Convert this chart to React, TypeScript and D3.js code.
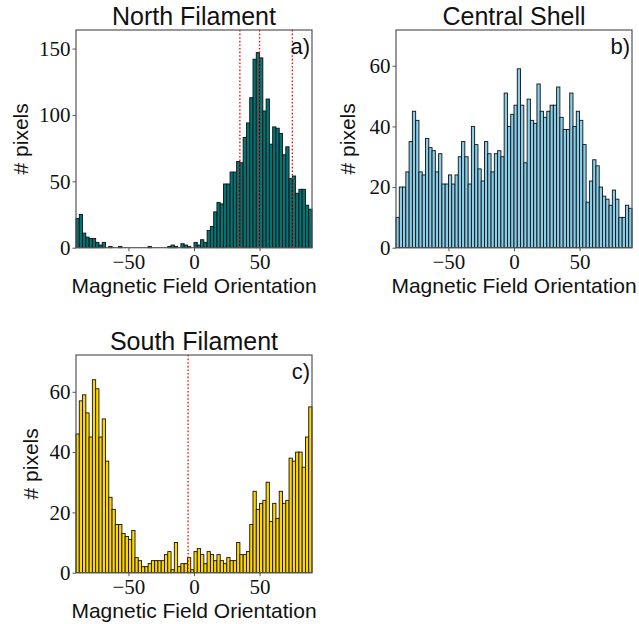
import * as d3 from 'd3';
import { useRef, useEffect } from 'react';

// histogram counts, 72 bins of 2.5 deg from -90 to 90
const northCounts = [
  22, 25, 11, 8, 7, 7, 4, 2, 4, 0,
  1, 0, 0, 1, 0, 0, 0, 0, 0, 0,
  0, 0, 1, 0, 0, 0, 0, 0, 1, 2,
  1, 0, 3, 2, 1, 0, 4, 2, 6, 4,
  13, 16, 27, 34, 33, 48, 48, 57, 57, 65,
  64, 83, 94, 113, 142, 147, 143, 103, 112, 78,
  91, 90, 86, 70, 76, 52, 54, 41, 44, 44,
  32, 29,
];

const centralCounts = [
  10, 20, 20, 25, 35, 45, 42, 25, 24, 36,
  33, 32, 25, 31, 21, 21, 24, 21, 24, 30,
  35, 30, 21, 40, 34, 26, 22, 35, 31, 25,
  31, 32, 30, 51, 40, 44, 47, 59, 47, 28,
  49, 42, 41, 54, 45, 43, 45, 47, 47, 53,
  43, 39, 39, 51, 40, 45, 42, 34, 15, 22,
  29, 27, 20, 17, 16, 14, 19, 16, 10, 10,
  14, 13,
];

const southCounts = [
  46, 57, 59, 53, 45, 64, 61, 45, 51, 37,
  25, 21, 16, 16, 13, 12, 11, 14, 5, 4,
  2, 2, 3, 4, 4, 4, 4, 6, 7, 1,
  10, 2, 3, 3, 5, 1, 7, 8, 6, 3,
  7, 6, 4, 6, 4, 3, 5, 4, 4, 10,
  6, 6, 7, 16, 27, 21, 23, 24, 30, 17,
  23, 18, 27, 23, 24, 38, 37, 40, 40, 35,
  45, 55,
];

const northLines = [35, 50, 75];
const southLines = [-4.5];

const xTicks = [-50, 0, 50];
const northYTicks = [0, 50, 100, 150];
const smallYTicks = [0, 20, 40, 60];

const BIN_START = -90;
const BIN_WIDTH = 2.5;

interface Panel {
  title: string;
  tag: string;
  counts: number[];
  color: string;
  yMax: number;
  yTicks: number[];
  lines: number[];
  left: number;
  top: number;
  labelX: number;
}

const panels: Panel[] = [
  { title: 'North Filament', tag: 'a)', counts: northCounts, color: '#007575', yMax: 164, yTicks: northYTicks, lines: northLines, left: 76, top: 30, labelX: 28 },
  { title: 'Central Shell', tag: 'b)', counts: centralCounts, color: '#87ceeb', yMax: 71.8, yTicks: smallYTicks, lines: [], left: 396, top: 30, labelX: 355 },
  { title: 'South Filament', tag: 'c)', counts: southCounts, color: '#ffd700', yMax: 72.2, yTicks: smallYTicks, lines: southLines, left: 76, top: 355, labelX: 38 },
];

const W = 236;
const H = 217.7;
const SANS = '"Liberation Sans", Arial, sans-serif';
const SERIF = '"Liberation Serif", "Times New Roman", serif';

const App = () => {
  const ref = useRef<SVGSVGElement>(null);

  useEffect(() => {
    if (!ref.current) return;
    const svg = d3.select(ref.current);
    svg.selectAll('*').remove();

    panels.forEach(p => {
      const g = svg.append('g').attr('transform', `translate(${p.left},${p.top})`);
      const x = d3.scaleLinear().domain([-90, 90]).range([0, W]);
      const y = d3.scaleLinear().domain([0, p.yMax]).range([H, 0]);

      // bars
      g.append('g')
        .selectAll('rect')
        .data(p.counts)
        .join('rect')
          .attr('x', (d, i) => x(BIN_START + i * BIN_WIDTH))
          .attr('y', d => y(d))
          .attr('width', x(BIN_WIDTH) - x(0))
          .attr('height', d => H - y(d))
          .attr('fill', p.color)
          .attr('stroke', '#111')
          .attr('stroke-width', 0.9);

      // red dotted reference lines
      g.append('g')
        .selectAll('line')
        .data(p.lines)
        .join('line')
          .attr('x1', d => x(d)).attr('x2', d => x(d))
          .attr('y1', 0).attr('y2', H)
          .attr('stroke', 'red')
          .attr('stroke-width', 1.3)
          .attr('stroke-dasharray', '1.6,2');

      // frame
      g.append('rect')
        .attr('width', W).attr('height', H)
        .attr('fill', 'none')
        .attr('stroke', '#555')
        .attr('stroke-width', 1.2);

      // x axis
      const xAxis = d3.axisBottom(x).tickValues(xTicks).tickSize(3.5).tickPadding(4)
        .tickFormat(d => (+d < 0 ? '\u2212' + Math.abs(+d) : String(d)));
      const gx = g.append('g').attr('transform', `translate(0,${H})`).call(xAxis);
      gx.select('.domain').remove();
      gx.selectAll('line').attr('stroke', '#555');
      gx.selectAll('text')
        .attr('font-family', SERIF).attr('font-size', 21).attr('fill', '#111')
        .attr('dy', '0.68em');

      // y axis
      const yAxis = d3.axisLeft(y).tickValues(p.yTicks).tickSize(3.5).tickPadding(2);
      const gy = g.append('g').call(yAxis);
      gy.select('.domain').remove();
      gy.selectAll('line').attr('stroke', '#555');
      gy.selectAll('text')
        .attr('font-family', SERIF).attr('font-size', 21).attr('fill', '#111');

      // title
      g.append('text')
        .attr('x', W / 2).attr('y', -5)
        .attr('text-anchor', 'middle')
        .attr('font-family', SANS).attr('font-size', 25)
        .attr('fill', '#111')
        .text(p.title);

      // panel tag
      g.append('text')
        .attr('x', W - 2).attr('y', 23.5)
        .attr('text-anchor', 'end')
        .attr('font-family', SANS).attr('font-size', 22)
        .attr('fill', '#111')
        .text(p.tag);

      // x label
      g.append('text')
        .attr('x', W / 2).attr('y', H + 45.6)
        .attr('text-anchor', 'middle')
        .attr('font-family', SANS).attr('font-size', 21)
        .attr('fill', '#111')
        .text('Magnetic Field Orientation');

      // y label
      svg.append('text')
        .attr('transform', `translate(${p.labelX},${p.top + H / 2}) rotate(-90)`)
        .attr('text-anchor', 'middle')
        .attr('font-family', SANS).attr('font-size', 21)
        .attr('fill', '#111')
        .text('# pixels');
    });
  }, []);

  return (
    <svg
      ref={ref}
      width={639}
      height={624}
      style={{ position: 'absolute', left: 0, top: 0, background: 'white' }}
    />
  );
};

export default App;
